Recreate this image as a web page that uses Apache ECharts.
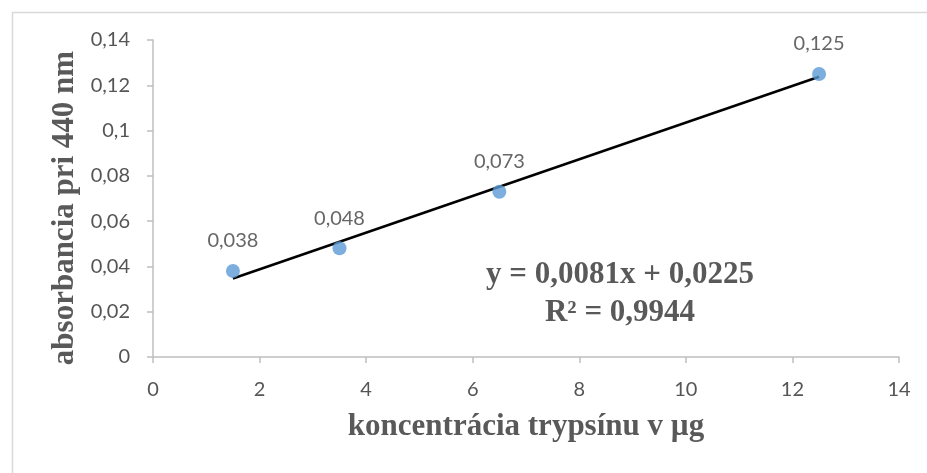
<!DOCTYPE html>
<html>
<head>
<meta charset="utf-8">
<script src="https://cdn.jsdelivr.net/npm/echarts@6/dist/echarts.min.js"></script>
<style>
  html, body { margin: 0; padding: 0; background: #fff; }
  #chart { width: 927px; height: 473px; }
</style>
</head>
<body>
<div id="chart"></div>
<script>
// Trypsin calibration: concentration (µg) vs absorbance at 440 nm
var concentrations = [1.5, 3.5, 6.5, 12.5];
var absorbances = [0.038, 0.048, 0.073, 0.125];
var xTicks = [0, 2, 4, 6, 8, 10, 12, 14];
var yTicks = [0, 0.02, 0.04, 0.06, 0.08, 0.1, 0.12, 0.14];

// linear regression line as reported in the equation label
var slope = 0.0081;
var intercept = 0.0225;
var rSquared = 0.9944;

var xTitle = 'koncentrácia trypsínu v µg';
var yTitle = 'absorbancia pri 440 nm';

function comma(v) { return String(v).replace('.', ','); }

var points = concentrations.map(function (x, i) { return [x, absorbances[i]]; });
var xFirst = concentrations[0];
var xLast = concentrations[concentrations.length - 1];
var trend = [[xFirst, slope * xFirst + intercept], [xLast, slope * xLast + intercept]];

var tickFont = { fontFamily: 'Lato, "Open Sans", sans-serif', fontSize: 20, color: '#555555' };
var serifBold = 'bold 31px "Liberation Serif", "Times New Roman", serif';

var chart = echarts.init(document.getElementById('chart'), null, { renderer: 'canvas' });
chart.setOption({
  animation: false,
  backgroundColor: '#ffffff',
  grid: { left: 153, right: 28, top: 40, bottom: 116 },
  xAxis: {
    type: 'value',
    min: xTicks[0], max: xTicks[xTicks.length - 1], interval: 2,
    splitLine: { show: false },
    axisLine: { show: true, lineStyle: { color: '#bfbfbf', width: 1.5 } },
    axisTick: { show: true, length: 6, lineStyle: { color: '#bfbfbf', width: 1.5 } },
    axisLabel: Object.assign({ margin: 23, formatter: comma }, tickFont),
    name: xTitle,
    nameLocation: 'middle',
    nameGap: 54,
    nameTextStyle: {
      fontFamily: '"Liberation Serif", "Times New Roman", serif',
      fontSize: 31, fontWeight: 'bold', color: '#595959'
    }
  },
  yAxis: {
    type: 'value',
    min: yTicks[0], max: yTicks[yTicks.length - 1], interval: 0.02,
    splitLine: { show: false },
    axisLine: { show: true, lineStyle: { color: '#bfbfbf', width: 1.5 } },
    axisTick: { show: true, length: 6, lineStyle: { color: '#bfbfbf', width: 1.5 } },
    axisLabel: Object.assign({ margin: 23, formatter: function (v) { return comma(+v.toFixed(2)); } }, tickFont)
  },
  series: [
    {
      type: 'line',
      data: trend,
      symbol: 'none',
      lineStyle: { color: '#000000', width: 2.5 },
      z: 3
    },
    {
      type: 'scatter',
      data: points,
      symbol: 'circle',
      symbolSize: 14,
      itemStyle: { color: '#5b9bd5' },
      label: {
        show: true,
        position: 'top',
        distance: 13,
        fontFamily: 'Lato, "Open Sans", sans-serif',
        fontSize: 20,
        color: '#404040',
        formatter: function (p) { return comma(p.value[1]); }
      },
      z: 4
    }
  ],
  graphic: [
    {
      type: 'rect',
      left: 10, top: 10,
      shape: { width: 1000, height: 1000 },
      style: { fill: 'none', stroke: '#d9d9d9', lineWidth: 1.5 },
      silent: true, z: -1
    },
    {
      type: 'text',
      x: 65, y: 208,
      rotation: Math.PI / 2,
      style: {
        text: yTitle,
        align: 'center', verticalAlign: 'middle',
        font: serifBold,
        fill: '#595959'
      },
      z: 10
    },
    {
      type: 'text',
      x: 620, y: 294,
      style: {
        text: 'y = ' + comma(slope) + 'x + ' + comma(intercept) + '\nR² = ' + comma(rSquared),
        align: 'center', verticalAlign: 'middle',
        lineHeight: 38,
        font: 'bold 31px "Liberation Serif", "Times New Roman", serif',
        fill: '#595959'
      },
      z: 10
    }
  ]
});
</script>
</body>
</html>
